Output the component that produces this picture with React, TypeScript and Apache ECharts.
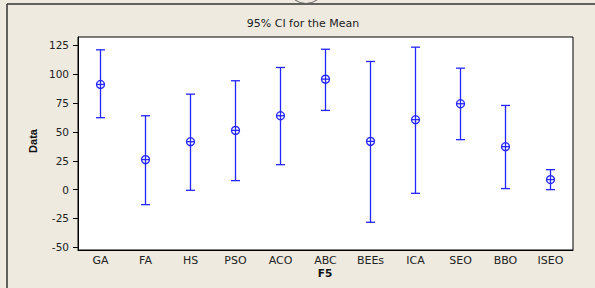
import React, { useEffect, useRef } from "react";
import * as echarts from "echarts";

const categories = ["GA", "FA", "HS", "PSO", "ACO", "ABC", "BEEs", "ICA", "SEO", "BBO", "ISEO"];
const lowerCI = [62.3, -13, -0.6, 7.8, 21.6, 68.6, -28.3, -3.2, 43.3, 0.9, 0];
const meanValues = [91.1, 26.0, 41.5, 51.3, 64.0, 95.7, 41.8, 60.6, 74.4, 37.2, 8.7];
const upperCI = [121.1, 64.0, 82.7, 94.3, 105.8, 121.6, 111, 123.4, 105.2, 72.9, 17.3];
const yTicks = [-50, -25, 0, 25, 50, 75, 100, 125];

const BLUE = "#2424ff";

export default function App() {
  const ref = useRef<HTMLDivElement>(null);
  useEffect(() => {
    if (!ref.current) return;
    const chart = echarts.init(ref.current, undefined, { renderer: "svg" });
    const data = categories.map((c, i) => [i, lowerCI[i], meanValues[i], upperCI[i]]);
    chart.setOption({
      animation: false,
      backgroundColor: "#EEEAE0",
      grid: {
        left: 78,
        top: 37,
        right: 22,
        bottom: 38,
        show: true,
        borderColor: "#000",
        borderWidth: 1,
        backgroundColor: "#fff",
        containLabel: false,
      },
      xAxis: {
        type: "category",
        data: categories,
        boundaryGap: true,
        axisLine: { onZero: false, lineStyle: { color: "#000", width: 1 } },
        axisTick: { alignWithLabel: true, length: 4, lineStyle: { color: "#000" } },
        axisLabel: { margin: 5, color: "#222", fontSize: 11, fontFamily: "DejaVu Sans" },
        splitLine: { show: false },
      },
      yAxis: {
        type: "value",
        min: -52.3,
        max: 132.2,
        axisLine: { show: true, onZero: false, lineStyle: { color: "#000", width: 1 } },
        axisTick: { show: true, length: 5, customValues: yTicks, lineStyle: { color: "#000" } },
        axisLabel: {
          margin: 9,
          color: "#222",
          fontSize: 10.5,
          fontFamily: "DejaVu Sans",
          customValues: yTicks,
        },
        splitLine: { show: false },
      },
      graphic: [
        { type: "line", shape: { x1: 7, y1: 4, x2: 595, y2: 4 }, style: { stroke: "#333", lineWidth: 1.5 } },
        { type: "line", shape: { x1: 7, y1: 4, x2: 7, y2: 288 }, style: { stroke: "#333", lineWidth: 1.5 } },
        {
          type: "arc",
          shape: { cx: 306, cy: -15.5, r: 19, startAngle: 0.3, endAngle: Math.PI - 0.3 },
          style: { stroke: "#666", lineWidth: 1, fill: "none" },
        },
        {
          type: "text",
          x: 303,
          y: 23,
          style: {
            text: "95% CI for the Mean",
            fontSize: 11,
            fontFamily: "DejaVu Sans",
            fill: "#222",
            align: "center",
            verticalAlign: "middle",
          },
        },
        {
          type: "text",
          x: 325,
          y: 273,
          style: {
            text: "F5",
            fontSize: 10.5,
            fontWeight: "bold",
            fontFamily: "DejaVu Sans",
            fill: "#111",
            align: "center",
            verticalAlign: "middle",
          },
        },
        {
          type: "text",
          x: 33,
          y: 141,
          rotation: Math.PI / 2,
          style: {
            text: "Data",
            fontSize: 11,
            fontWeight: "bold",
            fontFamily: "Liberation Sans",
            fill: "#111",
            align: "center",
            verticalAlign: "middle",
          },
        },
      ],
      series: [
        {
          type: "custom",
          data,
          encode: { x: 0, y: [1, 2, 3] },
          renderItem: (params: any, api: any) => {
            const idx = api.value(0);
            const lo = api.coord([idx, api.value(1)]);
            const m = api.coord([idx, api.value(2)]);
            const hi = api.coord([idx, api.value(3)]);
            const cap = 4.5;
            const r = 4;
            const st = { stroke: BLUE, lineWidth: 1.3, fill: "none" };
            return {
              type: "group",
              children: [
                { type: "line", shape: { x1: lo[0], y1: lo[1], x2: hi[0], y2: hi[1] }, style: st },
                { type: "line", shape: { x1: lo[0] - cap, y1: lo[1], x2: lo[0] + cap, y2: lo[1] }, style: st },
                { type: "line", shape: { x1: hi[0] - cap, y1: hi[1], x2: hi[0] + cap, y2: hi[1] }, style: st },
                { type: "circle", shape: { cx: m[0], cy: m[1], r }, style: st },
                { type: "line", shape: { x1: m[0] - r, y1: m[1], x2: m[0] + r, y2: m[1] }, style: st },
              ],
            };
          },
        },
      ],
    });
    return () => chart.dispose();
  }, []);
  return (
    <div
      ref={ref}
      style={{ position: "fixed", left: 0, top: 0, width: 595, height: 288 }}
    />
  );
}
